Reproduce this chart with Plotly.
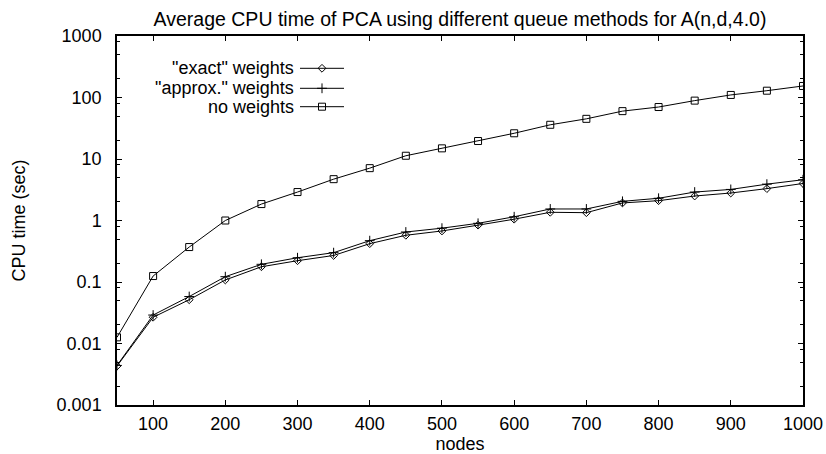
import plotly.graph_objects as go

nodes = [50, 100, 150, 200, 250, 300, 350, 400, 450, 500, 550, 600, 650, 700, 750, 800, 850, 900, 950, 1000]
exact_weights = [0.0043, 0.0267, 0.0515, 0.108, 0.177, 0.222, 0.27, 0.42, 0.575, 0.676, 0.84, 1.05, 1.36, 1.34, 1.93, 2.1, 2.5, 2.8, 3.3, 4.0]
approx_weights = [0.0044, 0.029, 0.058, 0.122, 0.194, 0.248, 0.30, 0.47, 0.65, 0.75, 0.90, 1.15, 1.54, 1.54, 2.05, 2.3, 2.9, 3.2, 3.9, 4.6]
no_weights = [0.0126, 0.125, 0.37, 1.0, 1.85, 2.9, 4.7, 7.1, 11.3, 14.9, 19.6, 26.2, 36, 45, 60, 70, 89, 110, 129, 154]

x_ticks = [100, 200, 300, 400, 500, 600, 700, 800, 900, 1000]
y_ticks = [0.001, 0.01, 0.1, 1, 10, 100, 1000]
y_tick_labels = ["0.001", "0.01", "0.1", "1", "10", "100", "1000"]
y_minor = [m * d for d in [0.001, 0.01, 0.1, 1, 10, 100] for m in (2, 5, 8)]

series_names = ['"exact" weights', '"approx." weights', 'no weights']
series_values = [exact_weights, approx_weights, no_weights]
series_symbols = ["diamond-open", "cross-thin-open", "square-open"]
series_sizes = [6, 7, 7]

FONT = "Liberation Sans, Arial, sans-serif"
fig = go.Figure()

for name, vals, sym, sz in zip(series_names, series_values, series_symbols, series_sizes):
    fig.add_trace(go.Scatter(
        x=nodes, y=vals, mode="lines+markers", name=name, showlegend=False,
        line=dict(color="black", width=1),
        marker=dict(symbol=sym, size=sz, color="black", line=dict(color="black", width=1)),
    ))

# custom gnuplot-style key (text, then sample) on an overlay pixel axis
key_rows = [32.3, 52.3, 70.7]
for name, sym, sz, ry in zip(series_names, series_symbols, series_sizes, key_rows):
    fig.add_trace(go.Scatter(x=[183, 227], y=[ry, ry], mode="lines", xaxis="x2", yaxis="y2",
                             line=dict(color="black", width=1), showlegend=False, hoverinfo="skip"))
    fig.add_trace(go.Scatter(x=[205], y=[ry], mode="markers", xaxis="x2", yaxis="y2",
                             marker=dict(symbol=sym, size=sz, color="black", line=dict(color="black", width=1)),
                             showlegend=False, hoverinfo="skip"))
    fig.add_annotation(x=179, y=ry, xref="x2", yref="y2", text=name, showarrow=False,
                       xanchor="right", yanchor="middle", font=dict(family=FONT, size=18, color="black"))

fig.update_layout(
    width=826, height=454,
    margin=dict(l=117, r=23, t=36, b=49, autoexpand=False),
    paper_bgcolor="white", plot_bgcolor="white",
    font=dict(family=FONT, size=18, color="black"),
    title=dict(text="Average CPU time of PCA using different queue methods for A(n,d,4.0)",
               x=0.5, xref="paper", xanchor="center", y=1 - 19 / 454, yanchor="middle",
               automargin=False,
               font=dict(family=FONT, size=19.5, color="black")),
    xaxis=dict(range=[50, 1000], tickvals=x_ticks, ticks="inside", ticklen=5, tickcolor="black",
               showline=True, linecolor="black", linewidth=1.5, mirror="ticks", showgrid=False,
               zeroline=False, automargin=False, title=dict(text="nodes", standoff=0, font=dict(size=18)),
               tickfont=dict(size=18), ticklabelstandoff=2),
    yaxis=dict(type="log", range=[-3, 3], tickvals=y_ticks, ticktext=y_tick_labels, ticks="inside",
               ticklen=5, tickcolor="black", showline=True, linecolor="black", linewidth=1.5,
               mirror="ticks", showgrid=False, zeroline=False, automargin=False,
               minor=dict(tickvals=y_minor, ticks="inside", ticklen=3, tickcolor="black"),
               title=dict(text="CPU time (sec)", standoff=26, font=dict(size=18)),
               tickfont=dict(size=18), ticklabelstandoff=10),
    xaxis2=dict(overlaying="x", range=[0, 686], visible=False),
    yaxis2=dict(overlaying="y", range=[369, 0], visible=False),
)

fig.write_html("out.html", config={"displayModeBar": False},
               post_script="document.body.style.margin='0';document.body.style.overflow='hidden';")
